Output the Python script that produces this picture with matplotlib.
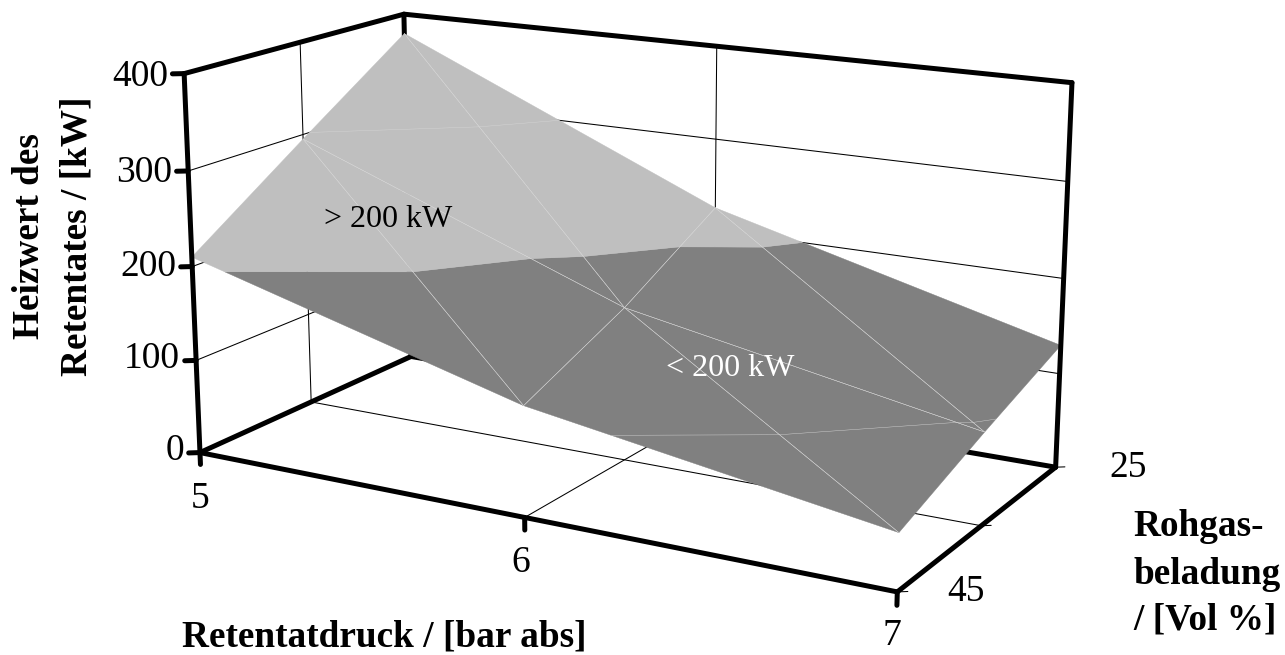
import numpy as np
import matplotlib
matplotlib.use("Agg")
import matplotlib.pyplot as plt
from mpl_toolkits.mplot3d.art3d import Poly3DCollection

pressure = [5, 6, 7]
loading = [25, 35, 45]
# rows follow loading, columns follow pressure
heizwert = [[378, 225, 130],
            [295, 163, 95],
            [210, 114, 57]]
z_ticks = [0, 100, 200, 300, 400]
z_label_pos = [(184, 451), (180, 359), (176, 267), (172, 173), (168, 77)]
x_tick_labels = ["5", "6", "7"]
y_tick_labels = ["25", "45"]

W, H = 1285, 655
SERIF = "Liberation Serif"
LIGHT = "#BFBFBF"
DARK = "#808080"
MESH = "#D6D6D6"


def px(x, y):
    # picture pixels to figure fraction
    return x / W, 1 - y / H


def triangles():
    tris = []
    for i in range(len(loading) - 1):
        for j in range(len(pressure) - 1):
            a = (pressure[j], loading[i], heizwert[i][j])
            b = (pressure[j + 1], loading[i], heizwert[i][j + 1])
            c = (pressure[j], loading[i + 1], heizwert[i + 1][j])
            d = (pressure[j + 1], loading[i + 1], heizwert[i + 1][j + 1])
            tris.append([a, b, d])
            tris.append([a, d, c])
    return tris


def split_tri(tri, level):
    """ cut a triangle at z=level, returns part below, part above, cut segment """
    below, above, cut = [], [], []
    for k in range(3):
        p = np.array(tri[k], dtype=float)
        q = np.array(tri[(k + 1) % 3], dtype=float)
        if p[2] <= level:
            below.append(p)
        if p[2] >= level:
            above.append(p)
        if (p[2] - level) * (q[2] - level) < 0:
            t = (level - p[2]) / (q[2] - p[2])
            m = p + t * (q - p)
            below.append(m)
            above.append(m)
            cut.append(m)
    return below, above, cut


fig = plt.figure(figsize=(W / 100, H / 100), dpi=100)
side = 1000
cx, cy = 611, 286
ax = fig.add_axes([(cx - side / 2) / W, (H - cy - side / 2) / H, side / W, side / H],
                  projection="3d", computed_zorder=False)
ax.set_proj_type("persp", focal_length=0.52)
ax.view_init(elev=15.2, azim=-60.5)
ax.set_box_aspect((782, 390, 396), zoom=0.93)
ax.set_axis_off()

x0, x1 = pressure[0], pressure[-1]
y0, y1 = loading[-1], loading[0]


def line(xs, ys, zs, lw=0.75, color="k", zorder=1):
    ax.plot(xs, ys, zs, color=color, lw=lw, zorder=zorder, solid_capstyle="round")


# thin wall and floor grid behind the surface
for z in z_ticks[1:-1]:
    line([x0, x0, x1], [y0, y1, y1], [z, z, z])
line([pressure[1]] * 3, [y0, y1, y1], [0, 0, 400])
line([x0, x0, x0], [loading[1], loading[1], loading[1]], [400, 0, 0])
line([x0, x1], [loading[1], loading[1]], [0, 0])

# box edges behind the surface
THICK = 3.6
line([x0, x0], [y1, y1], [0, 400], lw=THICK)
line([x0, x0], [y0, y1], [0, 0], lw=THICK)
line([x0, x1], [y1, y1], [0, 0], lw=THICK)

# surface, split in the two colour bands
low, high = [], []
segs = []
for tri in triangles():
    below, above, cut = split_tri(tri, 200)
    if len(below) > 2:
        low.append(below)
    if len(above) > 2:
        high.append(above)
    for lev in (100, 300):
        _, _, c = split_tri(tri, lev)
        if len(c) == 2:
            segs.append(c)
    for k in range(3):
        segs.append([tri[k], tri[(k + 1) % 3]])

ax.add_collection3d(Poly3DCollection(low, facecolor=DARK, edgecolor=DARK, lw=0.3, zorder=2))
ax.add_collection3d(Poly3DCollection(high, facecolor=LIGHT, edgecolor=LIGHT, lw=0.3, zorder=2))
for s in segs:
    a, b = np.array(s[0], dtype=float), np.array(s[1], dtype=float)
    # outline of surface is not drawn, only inner lines
    on_edge = (a[0] == b[0] and a[0] in (x0, x1)) or (a[1] == b[1] and a[1] in (y0, y1))
    if not on_edge:
        line([a[0], b[0]], [a[1], b[1]], [a[2], b[2]], lw=0.3, color=MESH, zorder=3)

# front box edges and ticks
line([x0, x0], [y0, y0], [0, 400], lw=THICK, zorder=4)
line([x1, x1], [y1, y1], [0, 400], lw=THICK, zorder=4)
line([x0, x1], [y0, y0], [0, 0], lw=THICK, zorder=4)
line([x1, x1], [y0, y1], [0, 0], lw=THICK, zorder=4)
line([x0, x0, x1, x1], [y0, y1, y1, y1], [400, 400, 400, 400], lw=THICK, zorder=4)
for z in z_ticks:
    line([x0, x0 - 0.024], [y0, y0 + 0.34], [z, z], lw=THICK, zorder=4)
for x in pressure:
    line([x, x], [y0, y0], [0, -13], lw=THICK, zorder=4)
for y in loading:
    line([x1, x1 + 0.02], [y, y - 0.285], [0, 0], lw=0.75, zorder=4)

ax.set_xlim(x0, x1)
ax.set_ylim(y0, y1)
ax.set_zlim(0, 400)

# tick labels and titles
tick_fs = 27
for lab, (x, y) in zip(z_ticks, z_label_pos):
    fig.text(*px(x, y), str(lab), family=SERIF, fontsize=tick_fs, ha="right", va="center")
for lab, (x, y) in zip(x_tick_labels, [(200, 499), (521, 563), (892, 636)]):
    fig.text(*px(x, y), lab, family=SERIF, fontsize=tick_fs, ha="center", va="center")
for lab, (x, y) in zip(y_tick_labels, [(1128, 468), (966, 592)]):
    fig.text(*px(x, y), lab, family=SERIF, fontsize=tick_fs, ha="center", va="center")

bold = dict(family=SERIF, fontsize=26.8, fontweight="bold", va="center")
fig.text(*px(30, 236), "Heizwert des", rotation=90, ha="center", **bold)
fig.text(*px(77, 236), "Retentates / [kW]", rotation=90, ha="center", **bold)
fig.text(*px(384, 637), "Retentatdruck / [bar abs]", ha="center", **bold)
fig.text(*px(1133, 527), "Rohgas-", ha="left", **bold)
fig.text(*px(1133, 574), "beladung", ha="left", **bold)
fig.text(*px(1133, 620), "/ [Vol %]", ha="left", **bold)

fig.text(*px(388, 219), "> 200 kW", family=SERIF, fontsize=23, ha="center", va="center")
fig.text(*px(730, 369), "< 200 kW", family=SERIF, fontsize=23, ha="center", va="center", color="white")

fig.savefig("out.png", dpi=100)
